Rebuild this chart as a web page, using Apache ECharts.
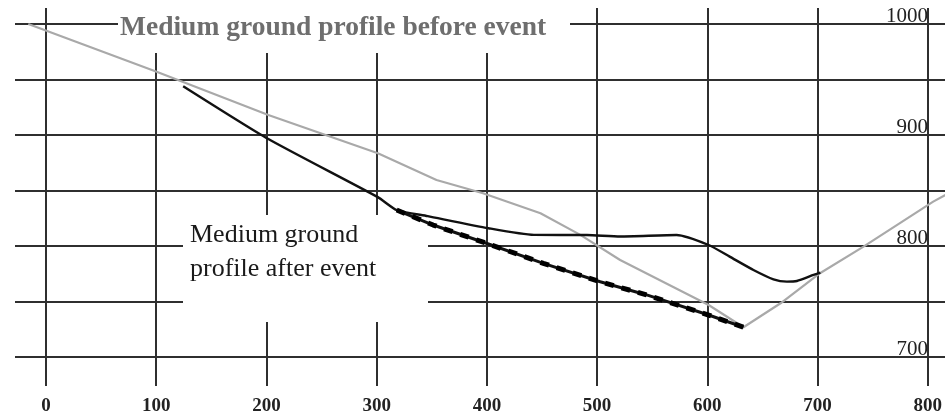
<!DOCTYPE html>
<html>
<head>
<meta charset="utf-8">
<script src="https://cdn.jsdelivr.net/npm/echarts@6/dist/echarts.min.js"></script>
<style>
html,body{margin:0;padding:0;background:#fff;}
#chart{width:945px;height:419px;}
</style>
</head>
<body>
<div id="chart"></div>
<script>
// Tick labels
const xTickValues = [0, 100, 200, 300, 400, 500, 600, 700, 800];
const yTickValues = [700, 800, 900, 1000];

// Medium ground profile before event (grey)
const beforeEvent = [
  [-16, 1000], [100, 957], [201, 918], [300, 883.5], [353, 859.5],
  [395, 847.5], [447, 829.5], [483, 810], [519, 787.4], [599, 746.8],
  [630.5, 726.8], [664, 748.4], [700, 775.7], [739, 799.4], [802, 840], [813, 846]
];

// Medium ground profile after event, upper solid curve
const afterUpper = [
  [124, 944], [201, 896.4], [300, 844], [317, 832.4], [345, 826.9],
  [400, 816], [441, 810], [489, 809.9], [519, 808.6], [570, 809.9],
  [599, 800.9], [618, 790.4], [639.5, 778.4], [657.6, 770], [669.7, 767.9],
  [678.8, 768.5], [693.8, 773.9], [700, 776]
];

// Medium ground profile after event, lower bold curve
const afterLower = [
  [317, 832.4], [350, 818.9], [400, 801.8], [449.6, 784.4], [501, 767.8],
  [543, 755.9], [599, 737.8], [630.5, 726.8]
];

const titleBefore = 'Medium ground profile before event';
const titleAfter1 = 'Medium ground';
const titleAfter2 = 'profile after event';

const gridColor = '#2f2f2f';
const chart = echarts.init(document.getElementById('chart'), null, {renderer: 'canvas'});

chart.setOption({
  animation: false,
  backgroundColor: '#ffffff',
  grid: [
    {left: 46, right: 14, top: 8, bottom: 62, containLabel: false},
    {left: 15, right: 0, top: 24, bottom: 62, containLabel: false},
    {left: 0, right: 0, top: 0, bottom: 0, containLabel: false}
  ],
  xAxis: [
    {
      type: 'value', gridIndex: 0, min: 0, max: 800, interval: 100,
      axisLine: {show: false},
      axisTick: {show: true, length: 29, inside: false, lineStyle: {color: gridColor, width: 2}},
      splitLine: {show: true, lineStyle: {color: gridColor, width: 2}},
      axisLabel: {
        show: true, margin: 40, lineHeight: 19, showMinLabel: true, showMaxLabel: true,
        fontFamily: '"Liberation Serif", serif', fontWeight: 'bold', fontSize: 19, color: '#222',
        formatter: v => xTickValues.includes(v) ? String(v) : ''
      }
    },
    {type: 'value', gridIndex: 1, min: 0, max: 1, show: false},
    {type: 'value', gridIndex: 2, min: -41.58, max: 812.66, show: false}
  ],
  yAxis: [
    {type: 'value', gridIndex: 0, min: 700, max: 1014.41, show: false},
    {
      type: 'value', gridIndex: 1, min: 700, max: 1000, interval: 50, position: 'right',
      axisLine: {show: false},
      axisTick: {show: false},
      splitLine: {show: true, lineStyle: {color: gridColor, width: 2}},
      axisLabel: {
        show: true, inside: true, margin: 17, verticalAlign: 'bottom', lineHeight: 15,
        showMinLabel: true, showMaxLabel: true,
        fontFamily: '"Liberation Serif", serif', fontSize: 21, color: '#222',
        formatter: v => yTickValues.includes(v) ? String(v) : ''
      }
    },
    {type: 'value', gridIndex: 2, min: 644.14, max: 1021.62, show: false}
  ],
  series: [
    {
      type: 'line', xAxisIndex: 2, yAxisIndex: 2, data: beforeEvent, symbol: 'none',
      lineStyle: {color: '#a9a9a9', width: 2.2}, z: 3
    },
    {
      type: 'line', xAxisIndex: 2, yAxisIndex: 2, data: afterUpper, symbol: 'none', smooth: 0.2,
      lineStyle: {color: '#111', width: 2.4}, z: 4
    },
    {
      type: 'line', xAxisIndex: 2, yAxisIndex: 2, data: afterLower, symbol: 'none',
      lineStyle: {color: '#111', width: 3}, z: 4
    },
    {
      type: 'line', xAxisIndex: 2, yAxisIndex: 2, data: afterLower, symbol: 'none',
      lineStyle: {color: '#000', width: 5, type: [9, 8]}, z: 4
    }
  ],
  graphic: [
    {type: 'rect', shape: {x: 118, y: 0, width: 452, height: 53}, style: {fill: '#fff'}, z: 1, silent: true},
    {type: 'rect', shape: {x: 183, y: 215, width: 245, height: 107}, style: {fill: '#fff'}, z: 1, silent: true},
    {type: 'text', x: 120, y: 28, z: 5, silent: true,
      style: {text: titleBefore, font: 'bold 27.5px "Liberation Serif", serif', fill: '#6e6e6e',
        align: 'left', verticalAlign: 'middle', textAlign: 'left', textVerticalAlign: 'middle'}},
    {type: 'text', x: 190, y: 235, z: 5, silent: true,
      style: {text: titleAfter1, font: '26px "Liberation Serif", serif', fill: '#1a1a1a',
        align: 'left', verticalAlign: 'middle', textAlign: 'left', textVerticalAlign: 'middle'}},
    {type: 'text', x: 190, y: 269, z: 5, silent: true,
      style: {text: titleAfter2, font: '26px "Liberation Serif", serif', fill: '#1a1a1a',
        align: 'left', verticalAlign: 'middle', textAlign: 'left', textVerticalAlign: 'middle'}}
  ]
});
</script>
</body>
</html>
